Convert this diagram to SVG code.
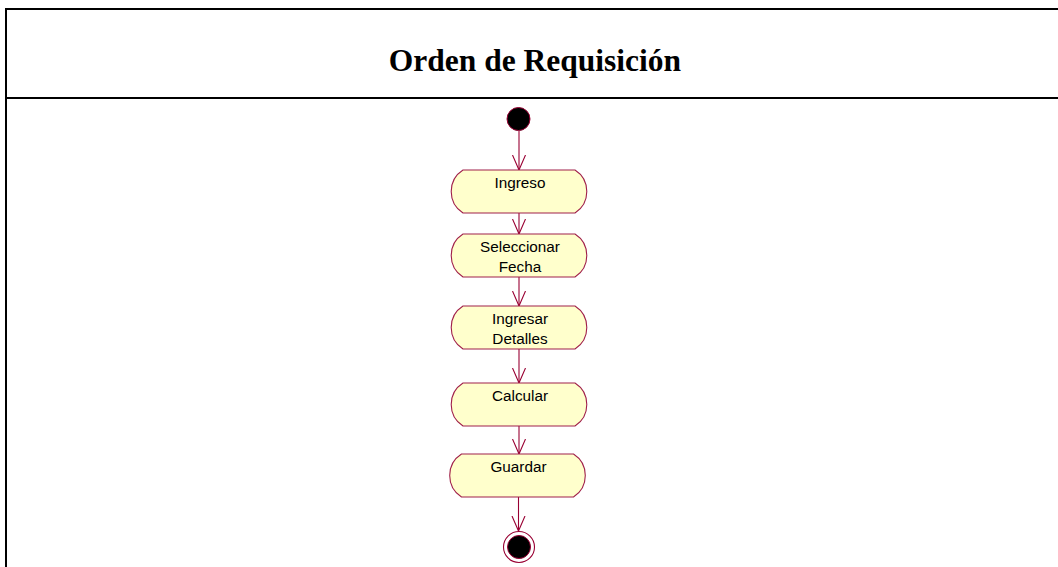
<svg xmlns="http://www.w3.org/2000/svg" width="1058" height="567" viewBox="0 0 1058 567">
  <style>
    .frame { stroke: #000; stroke-width: 2; fill: none; shape-rendering: crispEdges; }
    .title { font-family: "Liberation Serif", "Times New Roman", serif; font-weight: bold; font-size: 31.5px; fill: #000; }
    .act { fill: #FFFFCC; stroke: #A0204A; stroke-width: 1.1; }
    .lbl { font-family: "Liberation Sans", Arial, sans-serif; font-size: 15.3px; fill: #000; text-anchor: middle; }
    .conn { stroke: #990033; stroke-width: 1.1; fill: none; marker-end: url(#arr); }
  </style>
  <defs>
    <marker id="arr" markerUnits="userSpaceOnUse" markerWidth="16" markerHeight="15" viewBox="0 0 16 15" refX="15" refY="7.5" orient="auto">
      <path d="M0,1 L15,7.5 L0,14" fill="none" stroke="#990033" stroke-width="1.1"/>
    </marker>
  </defs>
  <rect width="1058" height="567" fill="#fff"/>
  <g id="frame">
    <line class="frame" x1="5" y1="9" x2="1058" y2="9"/>
    <line class="frame" x1="5" y1="98" x2="1058" y2="98"/>
    <line class="frame" x1="6" y1="8" x2="6" y2="567"/>
    <text class="title" x="535" y="71" text-anchor="middle">Orden de Requisición</text>
  </g>
  <g id="connectors">
    <line class="conn" x1="519" y1="131" x2="519" y2="170"/>
    <line class="conn" x1="519" y1="213" x2="519" y2="234"/>
    <line class="conn" x1="519" y1="277" x2="519" y2="306"/>
    <line class="conn" x1="519" y1="349" x2="519" y2="383"/>
    <line class="conn" x1="519" y1="426" x2="519" y2="454"/>
    <line class="conn" x1="518.5" y1="497" x2="518.5" y2="531"/>
  </g>
  <g id="start">
    <circle cx="518.5" cy="119" r="11.5" fill="#000" stroke="#990033" stroke-width="1"/>
  </g>
  <g id="ingreso">
    <path class="act" d="M463,170 H575 A25.5,25.5 0 0 1 575,213 H463 A25.5,25.5 0 0 1 463,170 Z"/>
    <text class="lbl" x="520" y="188">Ingreso</text>
  </g>
  <g id="seleccionar-fecha">
    <path class="act" d="M463,234 H575 A25.5,25.5 0 0 1 575,277 H463 A25.5,25.5 0 0 1 463,234 Z"/>
    <text class="lbl" x="520" y="252">Seleccionar</text>
    <text class="lbl" x="520" y="272">Fecha</text>
  </g>
  <g id="ingresar-detalles">
    <path class="act" d="M463,306 H575 A25.5,25.5 0 0 1 575,349 H463 A25.5,25.5 0 0 1 463,306 Z"/>
    <text class="lbl" x="520" y="324">Ingresar</text>
    <text class="lbl" x="520" y="344">Detalles</text>
  </g>
  <g id="calcular">
    <path class="act" d="M463,383 H575 A25.5,25.5 0 0 1 575,426 H463 A25.5,25.5 0 0 1 463,383 Z"/>
    <text class="lbl" x="520" y="401">Calcular</text>
  </g>
  <g id="guardar">
    <path class="act" d="M461.5,454 H573.5 A25.5,25.5 0 0 1 573.5,497 H461.5 A25.5,25.5 0 0 1 461.5,454 Z"/>
    <text class="lbl" x="518.5" y="472">Guardar</text>
  </g>
  <g id="end">
    <circle cx="519" cy="547" r="15.5" fill="#fff" stroke="#990033" stroke-width="1.1"/>
    <circle cx="519" cy="547" r="11.5" fill="#000" stroke="#990033" stroke-width="1"/>
  </g>
</svg>
